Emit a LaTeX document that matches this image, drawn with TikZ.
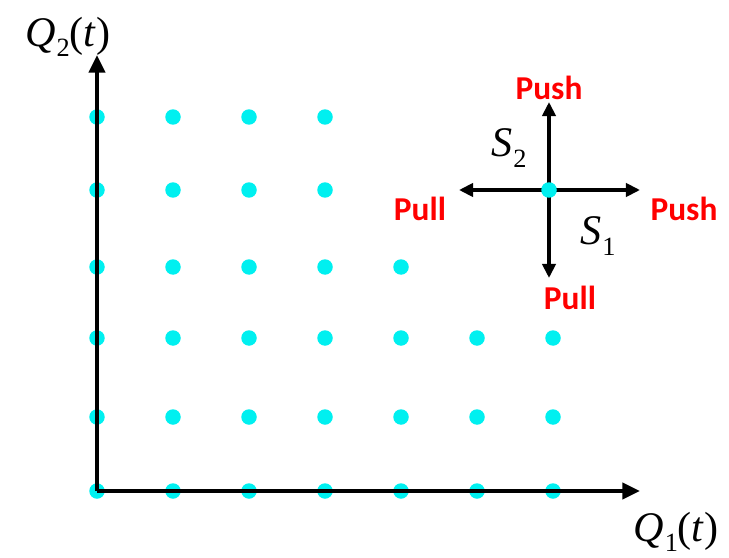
\documentclass[tikz,border=0pt]{standalone}
\usepackage{fontspec}
\setmainfont{Liberation Serif}
\newfontfamily\labelfont{Carlito}
\usepackage{tikz}
\usetikzlibrary{arrows.meta, positioning}
\usepackage{xcolor}
\definecolor{dotcyan}{HTML}{00F0F0}
\definecolor{actred}{HTML}{FF0000}
\newcommand{\queuevar}[2]{\textit{#1}\kern0.02em\raisebox{-0.25em}{\fontsize{15}{18}\selectfont #2}}

\begin{document}
\begin{tikzpicture}[x=0.02cm, y=-0.02cm,
    qdot/.style={circle, fill=dotcyan, inner sep=0pt, minimum size=0.31cm},
    axisline/.style={line width=2.7pt, -{Triangle[length=10pt, width=9pt]}},
    moveline/.style={line width=2.2pt, -{Triangle[length=8pt, width=7.5pt]}},
    actlabel/.style={text=actred, font=\labelfont\bfseries\fontsize{19}{22}\selectfont, inner sep=0pt},
    mathlabel/.style={font=\fontsize{24}{28}\selectfont, inner sep=0pt}]
    \useasboundingbox (0,0) rectangle (729,557);

    % queue states
    \foreach \y/\n in {117/4, 190/4, 267/5, 338/7, 417/7, 491/7} {
        \foreach \i in {1,...,\n} {
            \node[qdot] (d-\y-\i) at ({97+76*(\i-1)}, \y) {};
        }
    }

    % axes
    \coordinate (origin) at (97,491);
    \coordinate (q1end) at (640,491);
    \coordinate (q2end) at (97,55);
    \draw[axisline] (origin) -- (q1end);
    \draw[axisline] (origin) -- (q2end);
    \node[mathlabel] (q1label) at (676,532) {\queuevar{Q}{1}(\textit{t})};
    \node[mathlabel] (q2label) at (68,37) {\queuevar{Q}{2}(\textit{t})};

    % push / pull moves
    \node[qdot] (state) at (549,190) {};
    \coordinate (up) at (549,102);
    \coordinate (down) at (549,278);
    \coordinate (left) at (459,190);
    \coordinate (right) at (640,190);
    \draw[moveline] (state.center) -- (up);
    \draw[moveline] (state.center) -- (down);
    \draw[moveline] (state.center) -- (left);
    \draw[moveline] (state.center) -- (right);
    \node[qdot] at (state) {};

    \node[actlabel] (pushup) at (549,88) {Push};
    \node[actlabel] (pushright) at (684,209) {Push};
    \node[actlabel] (pullleft) at (420,209) {Pull};
    \node[actlabel] (pulldown) at (570,298) {Pull};
    \node[mathlabel] (s2) at (509,148) {\queuevar{S}{2}};
    \node[mathlabel] (s1) at (598,236) {\queuevar{S}{1}};
\end{tikzpicture}
\end{document}
